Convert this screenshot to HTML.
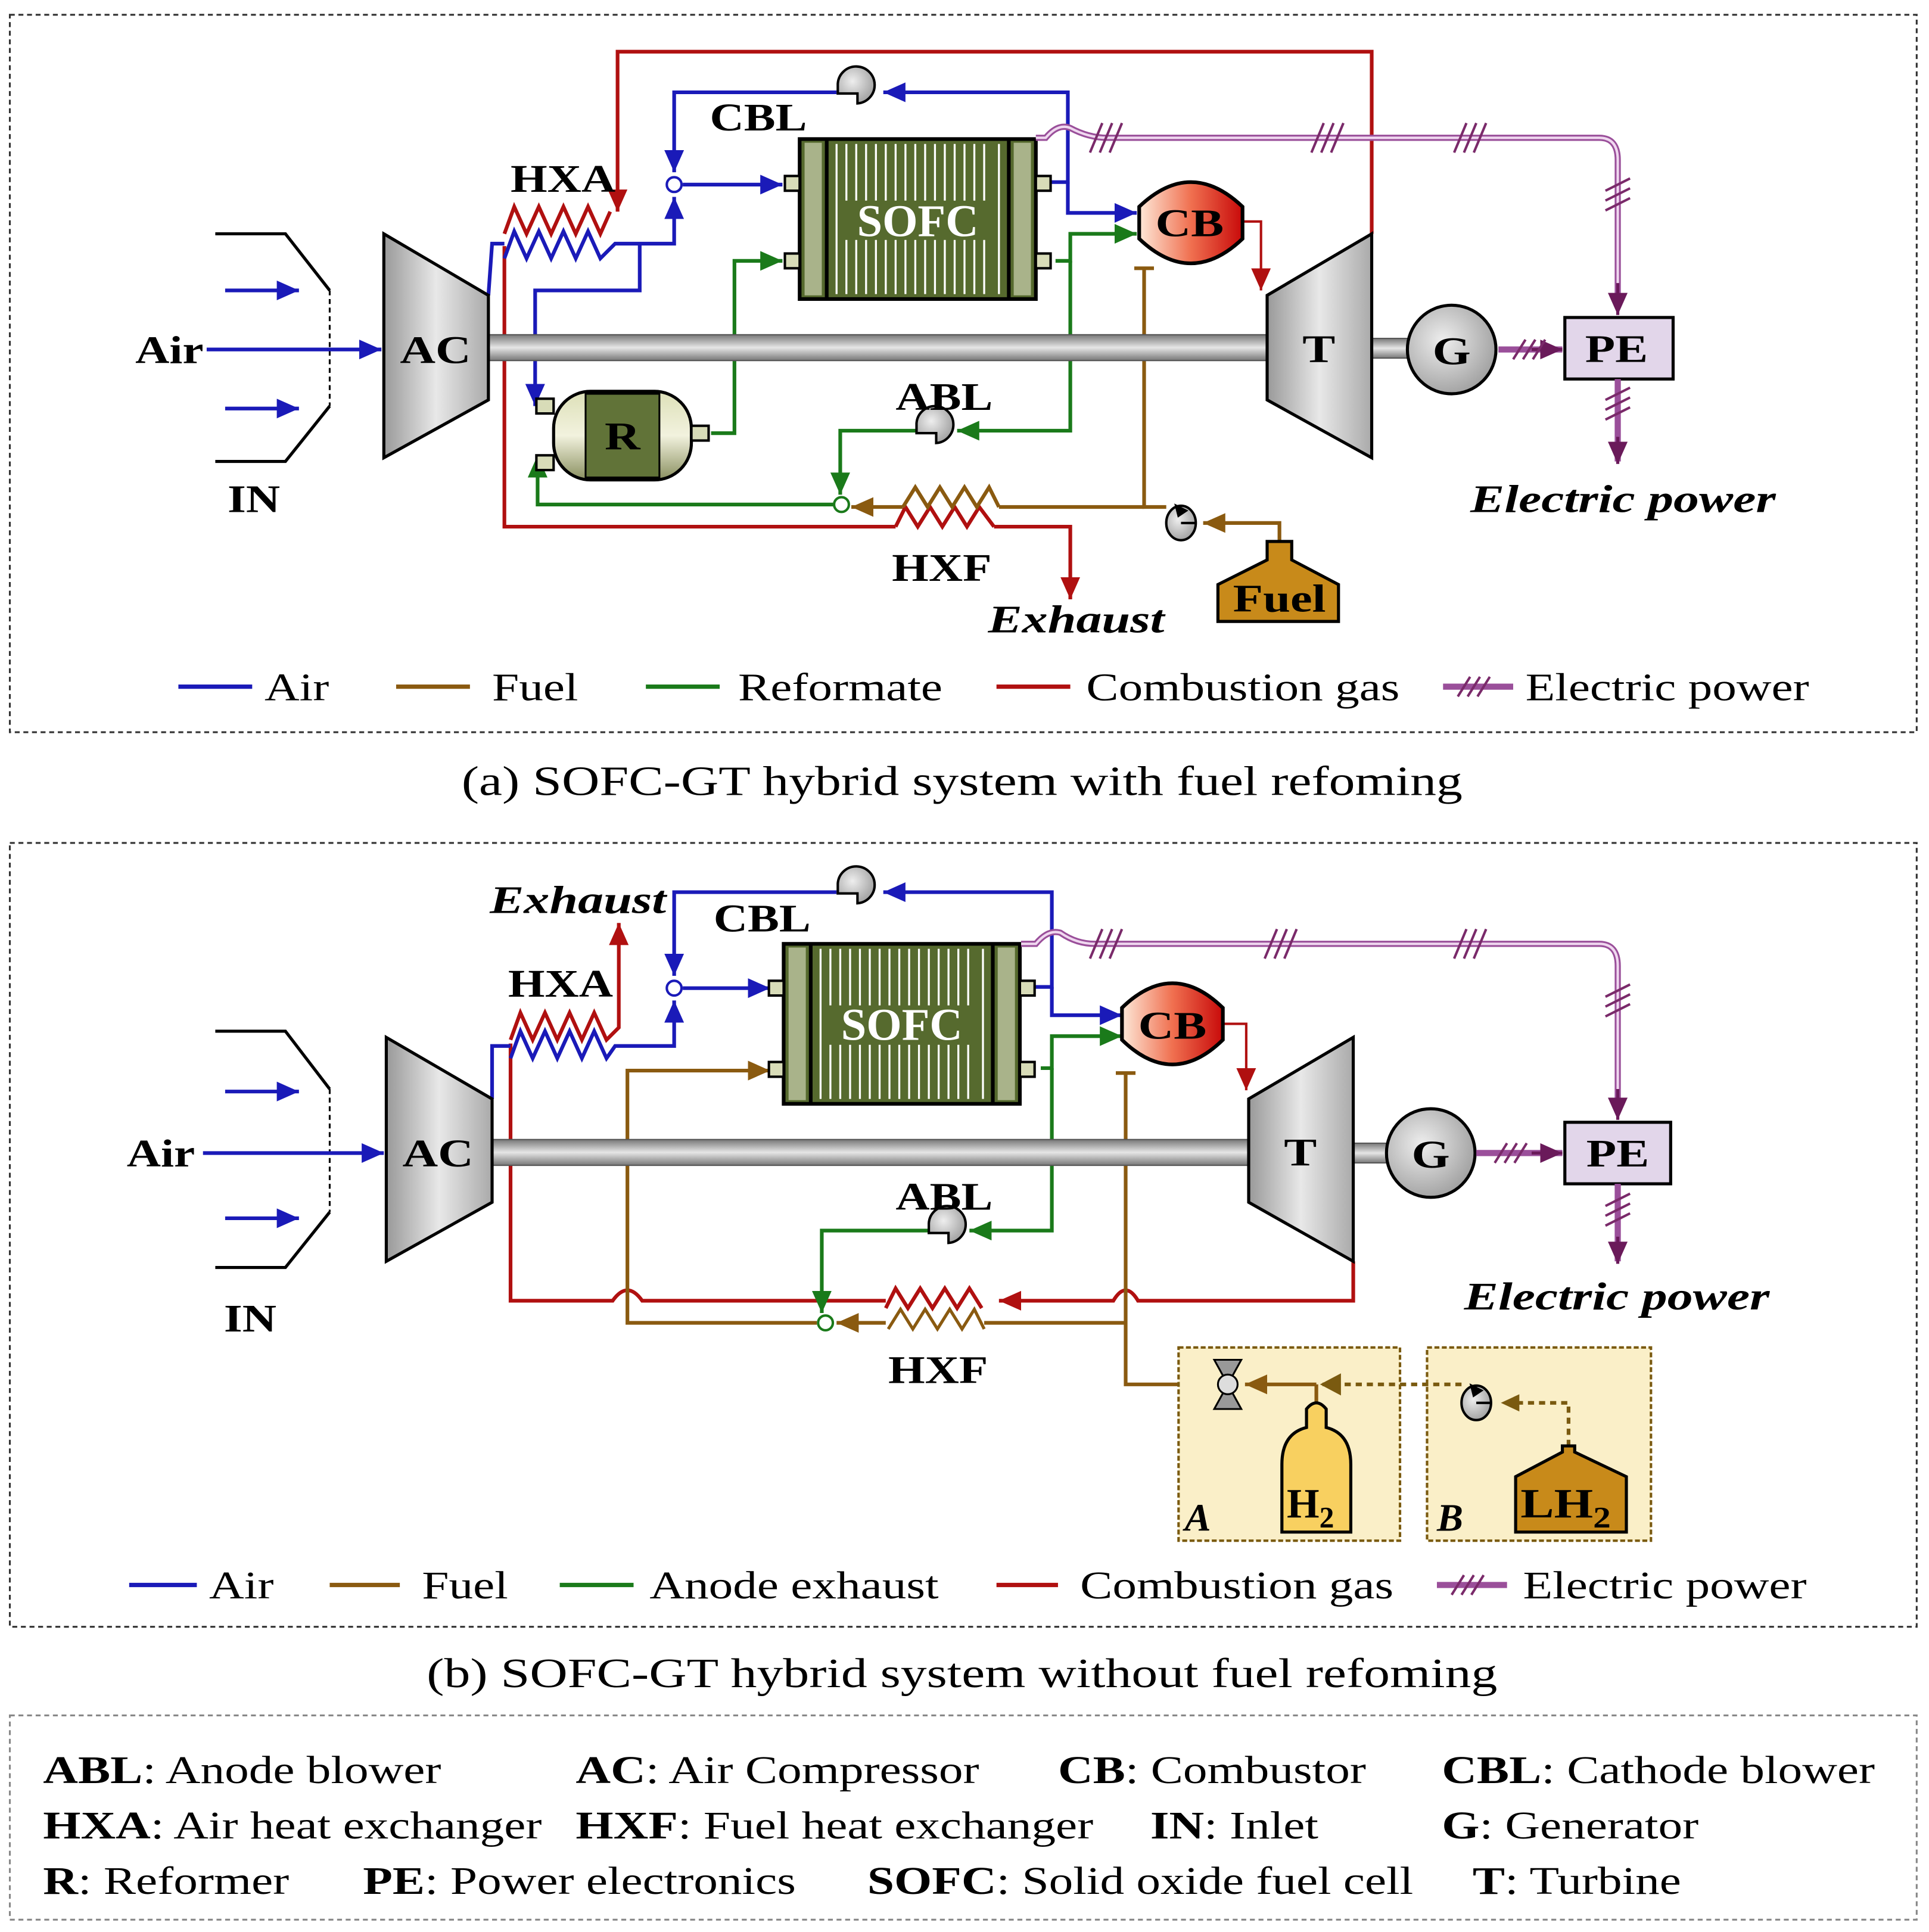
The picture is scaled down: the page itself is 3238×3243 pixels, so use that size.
<!DOCTYPE html>
<html><head><meta charset="utf-8"><style>html,body{margin:0;padding:0;background:#fff}svg{display:block}text{font-family:"Liberation Serif",serif}
.w{transform-box:fill-box;transform-origin:0 0;transform:scaleX(1.23)}
.wc{transform-box:fill-box;transform-origin:50% 0;transform:scaleX(1.25)}
.wb{transform-box:fill-box;transform-origin:0 0;transform:scaleX(1.2)}
.wi{transform-box:fill-box;transform-origin:0 0;transform:scaleX(1.3)}
</style></head>
<body>
<svg width="3238" height="3243" viewBox="0 0 1568 1570" preserveAspectRatio="none" xmlns="http://www.w3.org/2000/svg">
<defs>
<marker id="ab" markerUnits="userSpaceOnUse" markerWidth="20" markerHeight="20" refX="18" refY="8" orient="auto"><path d="M0,0 L18,8 L0,16 Z" fill="#1a1ab8"/></marker>
<marker id="ag" markerUnits="userSpaceOnUse" markerWidth="20" markerHeight="20" refX="18" refY="8" orient="auto"><path d="M0,0 L18,8 L0,16 Z" fill="#1a7a1a"/></marker>
<marker id="ar" markerUnits="userSpaceOnUse" markerWidth="20" markerHeight="20" refX="18" refY="8" orient="auto"><path d="M0,0 L18,8 L0,16 Z" fill="#b01010"/></marker>
<marker id="ao" markerUnits="userSpaceOnUse" markerWidth="20" markerHeight="20" refX="18" refY="8" orient="auto"><path d="M0,0 L18,8 L0,16 Z" fill="#8a5a10"/></marker>
<marker id="ap" markerUnits="userSpaceOnUse" markerWidth="20" markerHeight="20" refX="18" refY="8" orient="auto"><path d="M0,0 L18,8 L0,16 Z" fill="#6a1a5a"/></marker>
<linearGradient id="gshaft" x1="0" y1="0" x2="0" y2="1"><stop offset="0" stop-color="#777"/><stop offset=".5" stop-color="#e6e6e6"/><stop offset="1" stop-color="#777"/></linearGradient>
<linearGradient id="gcomp" x1="0" y1="0" x2="1" y2="0"><stop offset="0" stop-color="#999"/><stop offset=".5" stop-color="#e8e8e8"/><stop offset="1" stop-color="#aaa"/></linearGradient>
<linearGradient id="gcb" x1="0" y1="0" x2="1" y2="0"><stop offset="0" stop-color="#fde8d8"/><stop offset=".5" stop-color="#f07050"/><stop offset="1" stop-color="#c80a0a"/></linearGradient>
<radialGradient id="gg" cx=".4" cy=".4" r=".7"><stop offset="0" stop-color="#eee"/><stop offset="1" stop-color="#999"/></radialGradient>
<linearGradient id="gr" x1="0" y1="0" x2="0" y2="1"><stop offset="0" stop-color="#dde0b8"/><stop offset=".5" stop-color="#f2f2de"/><stop offset="1" stop-color="#8a9060"/></linearGradient>
<g id="sofc">
<rect x="0" y="0" width="192" height="130" fill="#566a2e" stroke="#000" stroke-width="3"/>
<rect x="4" y="3" width="14" height="124" fill="#a9b38a"/><rect x="174" y="3" width="14" height="124" fill="#a9b38a"/>
<line x1="22" y1="0" x2="22" y2="130" stroke="#000" stroke-width="3"/><line x1="170" y1="0" x2="170" y2="130" stroke="#000" stroke-width="3"/>
<g stroke="#fff" stroke-width="1.6">
<path d="M30,4V126M162,4V126M38,4V50M46,4V50M54,4V50M62,4V50M70,4V50M78,4V50M86,4V50M94,4V50M102,4V50M110,4V50M118,4V50M126,4V50M134,4V50M142,4V50M150,4V50M38,82V126M46,82V126M54,82V126M62,82V126M70,82V126M78,82V126M86,82V126M94,82V126M102,82V126M110,82V126M118,82V126M126,82V126M134,82V126M142,82V126M150,82V126"/></g>
</g>
<g id="blower"><path d="M-16,-4 A15,15 0 1 1 0,12 L0,4 L-16,4 Z" fill="url(#gg)" stroke="#000" stroke-width="2"/></g>
<g id="pump"><ellipse rx="12" ry="14" fill="url(#gg)" stroke="#000" stroke-width="2"/><path d="M12,0 L0,0 M-4,-14 L4,-10 L-2,-6 Z" stroke="#000" stroke-width="2" fill="#000"/></g>
</defs>

<g fill="none" stroke="#333" stroke-width="1.5" stroke-dasharray="4,3">
<rect x="8" y="12" width="1550" height="583"/>
<rect x="8" y="685" width="1550" height="637"/>
<rect x="8" y="1394" width="1550" height="166" stroke="#888"/>
</g>

<!-- ============ PANEL A ============ -->
<g>
<polyline points="175,190 232,190 268,236" fill="none" stroke="#000" stroke-width="2.5"/>
<polyline points="268,330 232,375 175,375" fill="none" stroke="#000" stroke-width="2.5"/>
<line x1="268" y1="236" x2="268" y2="330" stroke="#000" stroke-width="1.5" stroke-dasharray="4,3"/>
<g stroke="#1a1ab8" stroke-width="3"><line x1="183" y1="236" x2="243" y2="236" marker-end="url(#ab)"/><line x1="183" y1="332" x2="243" y2="332" marker-end="url(#ab)"/><line x1="168" y1="284" x2="310" y2="284" marker-end="url(#ab)"/></g>
<text class="wb" x="110" y="295" font-size="32" font-weight="bold">Air</text>
<text class="wb" x="185" y="416" font-size="32" font-weight="bold">IN</text>

<g fill="none" stroke="#b01010" stroke-width="3">
<polyline points="1115,190 1115,42 502,42 502,172" marker-end="url(#ar)"/>
<polyline points="410,200 410,428 728,428"/>
<polyline points="808,428 870,428 870,487" marker-end="url(#ar)"/>
<polyline points="1008,180 1025,180 1025,236" stroke-width="2" marker-end="url(#ar)"/>
<path d="M410,190 L418,168 L428,190 L438,168 L448,190 L458,168 L468,190 L478,168 L488,190 L496,172"/>
<path d="M728,428 L736,412 L746,428 L756,412 L766,428 L776,412 L786,428 L796,412 L808,428"/>
</g>
<g fill="none" stroke="#1a1ab8" stroke-width="3">
<polyline points="397,240 400,198 410,198"/>
<path d="M410,210 L418,188 L428,210 L438,188 L448,210 L458,188 L468,210 L478,188 L488,210 L500,198 L548,198 L548,160" marker-end="url(#ab)"/>
<polyline points="520,198 520,236 435,236 435,330" marker-end="url(#ab)"/>
<polyline points="850,148 868,148 868,75 718,75" marker-end="url(#ab)"/>
<polyline points="680,75 548,75 548,140" marker-end="url(#ab)"/>
<line x1="555" y1="150" x2="636" y2="150" marker-end="url(#ab)"/>
<polyline points="868,148 868,173 924,173" marker-end="url(#ab)"/>
</g>
<circle cx="548" cy="150" r="6" fill="#fff" stroke="#1a1ab8" stroke-width="2"/>
<g fill="none" stroke="#1a7a1a" stroke-width="3">
<polyline points="578,352 597,352 597,212 636,212" marker-end="url(#ag)"/>
<polyline points="858,212 870,212 870,190 924,190" marker-end="url(#ag)"/>
<polyline points="870,212 870,350 778,350" marker-end="url(#ag)"/>
<polyline points="745,350 683,350 683,402" marker-end="url(#ag)"/>
<polyline points="678,410 437,410 437,370" marker-end="url(#ag)"/>
</g>
<g fill="none" stroke="#8a5a10" stroke-width="3">
<polyline points="1040,465 1040,425 978,425" marker-end="url(#ao)"/>
<polyline points="948,412 930,412 930,218"/>
<line x1="922" y1="218" x2="938" y2="218"/>
<polyline points="930,412 812,412"/>
<path d="M812,412 L804,396 L794,412 L784,396 L774,412 L764,396 L754,412 L744,396 L734,412"/>
<line x1="734" y1="412" x2="692" y2="412" marker-end="url(#ao)"/>
</g>
<circle cx="684" cy="410" r="6" fill="#fff" stroke="#1a7a1a" stroke-width="2"/>
<rect x="397" y="272" width="633" height="21" fill="url(#gshaft)" stroke="#555"/>
<rect x="1115" y="275" width="32" height="16" fill="url(#gshaft)" stroke="#555"/>
<polygon points="312,190 397,240 397,325 312,372" fill="url(#gcomp)" stroke="#000" stroke-width="2.5"/>
<text class="wc" x="354" y="295" font-size="32" font-weight="bold" text-anchor="middle">AC</text>
<polygon points="1030,240 1115,190 1115,372 1030,325" fill="url(#gcomp)" stroke="#000" stroke-width="2.5"/>
<text class="wc" x="1072" y="294" font-size="32" font-weight="bold" text-anchor="middle">T</text>
<circle cx="1180" cy="284" r="36" fill="url(#gg)" stroke="#000" stroke-width="2.5"/>
<text class="wc" x="1180" y="296" font-size="32" font-weight="bold" text-anchor="middle">G</text>
<rect x="1272" y="258" width="88" height="50" fill="#e2d6ea" stroke="#000" stroke-width="2.5"/>
<text class="wc" x="1314" y="294" font-size="32" font-weight="bold" text-anchor="middle">PE</text>
<use href="#sofc" x="650" y="113"/>
<g fill="#d8dcb8" stroke="#000" stroke-width="2"><rect x="638" y="143" width="12" height="12"/><rect x="638" y="206" width="12" height="12"/><rect x="842" y="143" width="12" height="12"/><rect x="842" y="206" width="12" height="12"/></g>
<text x="746" y="192" font-size="37" font-weight="bold" fill="#fff" text-anchor="middle">SOFC</text>
<path d="M926,168 Q968,128 1010,168 L1010,194 Q968,234 926,194 Z" fill="url(#gcb)" stroke="#000" stroke-width="3"/>
<text class="wc" x="967" y="192" font-size="32" font-weight="bold" text-anchor="middle">CB</text>
<rect x="450" y="318" width="112" height="72" rx="30" fill="url(#gr)" stroke="#000" stroke-width="2.5"/>
<rect x="476" y="320" width="60" height="68" fill="#617338" stroke="#000" stroke-width="1.5"/>
<rect x="562" y="346" width="14" height="12" fill="#d8dcb8" stroke="#000" stroke-width="2"/>
<rect x="436" y="324" width="14" height="12" fill="#d8dcb8" stroke="#000" stroke-width="2"/>
<rect x="436" y="370" width="14" height="12" fill="#d8dcb8" stroke="#000" stroke-width="2"/>
<text class="wc" x="506" y="365" font-size="32" font-weight="bold" text-anchor="middle">R</text>
<use href="#blower" x="697" y="72"/>
<use href="#blower" x="761" y="348"/>
<use href="#pump" x="960" y="425"/>
<path d="M1030,440 L1050,440 L1050,455 L1088,475 L1088,505 L990,505 L990,475 L1030,455 Z" fill="#c88a1a" stroke="#000" stroke-width="2.5"/>
<text class="wc" x="1040" y="497" font-size="32" font-weight="bold" text-anchor="middle">Fuel</text>
<g fill="none">
<path d="M842,112 L850,112 Q860,100 870,104 Q885,112 900,112 L1300,112 Q1315,112 1315,130 L1315,240" stroke="#9a4f9a" stroke-width="5"/>
<path d="M842,112 L850,112 Q860,100 870,104 Q885,112 900,112 L1300,112 Q1315,112 1315,130 L1315,240" stroke="#f0d8f0" stroke-width="2"/>
<line x1="1315" y1="230" x2="1315" y2="256" stroke="#6a1a5a" stroke-width="2.5" marker-end="url(#ap)"/>
<path d="M1218,284 L1270,284" stroke="#9a4f9a" stroke-width="5"/>
<line x1="1245" y1="284" x2="1270" y2="284" stroke="#6a1a5a" stroke-width="2.5" marker-end="url(#ap)"/>
<path d="M1315,308 L1315,375" stroke="#9a4f9a" stroke-width="5"/>
<line x1="1315" y1="355" x2="1315" y2="377" stroke="#6a1a5a" stroke-width="2.5" marker-end="url(#ap)"/>
<g stroke="#7a2a6a" stroke-width="2"><path d="M886,124 L896,100 M894,124 L904,100 M902,124 L912,100 M1066,124 L1076,100 M1074,124 L1084,100 M1082,124 L1092,100 M1182,124 L1192,100 M1190,124 L1200,100 M1198,124 L1208,100 M1305,155 L1325,145 M1305,163 L1325,153 M1305,171 L1325,161 M1230,292 L1240,276 M1238,292 L1248,276 M1246,292 L1256,276 M1305,325 L1325,315 M1305,333 L1325,323 M1305,341 L1325,331"/></g>
</g>
<g font-size="32" font-weight="bold">
<text class="wb" x="415" y="156">HXA</text><text class="wb" x="577" y="106">CBL</text><text class="wb" x="728" y="333">ABL</text><text class="wb" x="725" y="472">HXF</text>
<text class="wi" x="803" y="514" font-style="italic">Exhaust</text>
<text class="wi" x="1195" y="416" font-style="italic">Electric power</text>
</g>
<g stroke-width="3.5"><line x1="145" y1="558" x2="205" y2="558" stroke="#1a1ab8"/><line x1="322" y1="558" x2="382" y2="558" stroke="#8a5a10"/><line x1="525" y1="558" x2="585" y2="558" stroke="#1a7a1a"/><line x1="810" y1="558" x2="870" y2="558" stroke="#b01010"/>
<line x1="1173" y1="558" x2="1230" y2="558" stroke="#9a4f9a" stroke-width="5"/><path d="M1185,566 L1195,550 M1193,566 L1203,550 M1201,566 L1211,550" stroke="#7a2a6a" stroke-width="2"/></g>
<g font-size="32"><text class="w" x="215" y="569">Air</text><text class="w" x="400" y="569">Fuel</text><text class="w" x="600" y="569">Reformate</text><text class="w" x="883" y="569">Combustion gas</text><text class="w" x="1240" y="569">Electric power</text></g>
</g>
<text class="wc" x="782" y="646" font-size="34" text-anchor="middle">(a) SOFC-GT hybrid system with fuel refoming</text>

<!-- ============ PANEL B ============ -->
<g>
<polyline points="175,838 232,838 268,885" fill="none" stroke="#000" stroke-width="2.5"/>
<polyline points="268,985 232,1030 175,1030" fill="none" stroke="#000" stroke-width="2.5"/>
<line x1="268" y1="885" x2="268" y2="985" stroke="#000" stroke-width="1.5" stroke-dasharray="4,3"/>
<g stroke="#1a1ab8" stroke-width="3"><line x1="183" y1="887" x2="243" y2="887" marker-end="url(#ab)"/><line x1="183" y1="990" x2="243" y2="990" marker-end="url(#ab)"/><line x1="165" y1="937" x2="312" y2="937" marker-end="url(#ab)"/></g>
<text class="wb" x="103" y="948" font-size="32" font-weight="bold">Air</text>
<text class="wb" x="182" y="1082" font-size="32" font-weight="bold">IN</text>

<g fill="none" stroke="#b01010" stroke-width="3">
<path d="M1100,1025 L1100,1057 L925,1057 Q915,1040 905,1057 L812,1057" marker-end="url(#ar)"/>
<path d="M720,1057 L522,1057 Q510,1040 498,1057 L415,1057 L415,848"/>
<path d="M415,845 L423,823 L433,845 L443,823 L453,845 L463,823 L473,845 L483,823 L493,845 L503,835 L503,750" marker-end="url(#ar)"/>
<path d="M720,1063 L728,1047 L738,1063 L748,1047 L758,1063 L768,1047 L778,1063 L788,1047 L798,1063"/>
<polyline points="994,832 1013,832 1013,886" stroke-width="2" marker-end="url(#ar)"/>
</g>
<g fill="none" stroke="#1a1ab8" stroke-width="3">
<polyline points="400,893 400,850 415,850"/>
<path d="M415,860 L423,838 L433,860 L443,838 L453,860 L463,838 L473,860 L483,838 L493,860 L500,850 L548,850 L548,813" marker-end="url(#ab)"/>
<polyline points="838,802 855,802 855,725 718,725" marker-end="url(#ab)"/>
<polyline points="680,725 548,725 548,793" marker-end="url(#ab)"/>
<line x1="555" y1="803" x2="626" y2="803" marker-end="url(#ab)"/>
<polyline points="855,802 855,825 912,825" marker-end="url(#ab)"/>
</g>
<circle cx="548" cy="803" r="6" fill="#fff" stroke="#1a1ab8" stroke-width="2"/>
<g fill="none" stroke="#1a7a1a" stroke-width="3">
<polyline points="846,868 855,868 855,842 912,842" marker-end="url(#ag)"/>
<polyline points="855,868 855,1000 788,1000" marker-end="url(#ag)"/>
<polyline points="755,1000 668,1000 668,1067" marker-end="url(#ag)"/>
</g>
<g fill="none" stroke="#8a5a10" stroke-width="3">
<polyline points="988,1125 915,1125 915,872"/>
<line x1="907" y1="872" x2="923" y2="872"/>
<polyline points="915,1075 800,1075"/>
<path d="M720,1075 L680,1075" marker-end="url(#ao)"/>
<polyline points="664,1075 510,1075 510,870 626,870" marker-end="url(#ao)"/>
<path d="M800,1080 L792,1064 L782,1080 L772,1064 L762,1080 L752,1064 L742,1080 L732,1064 L722,1080" stroke-width="2.5"/>
</g>
<circle cx="671" cy="1075" r="6" fill="#fff" stroke="#1a7a1a" stroke-width="2"/>
<rect x="400" y="926" width="615" height="21" fill="url(#gshaft)" stroke="#555"/>
<rect x="1100" y="929" width="30" height="16" fill="url(#gshaft)" stroke="#555"/>
<polygon points="314,843 400,893 400,977 314,1025" fill="url(#gcomp)" stroke="#000" stroke-width="2.5"/>
<text class="wc" x="356" y="948" font-size="32" font-weight="bold" text-anchor="middle">AC</text>
<polygon points="1015,893 1100,843 1100,1025 1015,977" fill="url(#gcomp)" stroke="#000" stroke-width="2.5"/>
<text class="wc" x="1057" y="947" font-size="32" font-weight="bold" text-anchor="middle">T</text>
<circle cx="1163" cy="937" r="36" fill="url(#gg)" stroke="#000" stroke-width="2.5"/>
<text class="wc" x="1163" y="949" font-size="32" font-weight="bold" text-anchor="middle">G</text>
<rect x="1272" y="912" width="86" height="50" fill="#e2d6ea" stroke="#000" stroke-width="2.5"/>
<text class="wc" x="1315" y="948" font-size="32" font-weight="bold" text-anchor="middle">PE</text>
<use href="#sofc" x="637" y="767"/>
<g fill="#d8dcb8" stroke="#000" stroke-width="2"><rect x="625" y="797" width="12" height="12"/><rect x="625" y="863" width="12" height="12"/><rect x="829" y="797" width="12" height="12"/><rect x="829" y="863" width="12" height="12"/></g>
<text x="733" y="845" font-size="37" font-weight="bold" fill="#fff" text-anchor="middle">SOFC</text>
<path d="M912,819 Q953,779 994,819 L994,845 Q953,885 912,845 Z" fill="url(#gcb)" stroke="#000" stroke-width="3"/>
<text class="wc" x="953" y="844" font-size="32" font-weight="bold" text-anchor="middle">CB</text>
<use href="#blower" x="697" y="722"/>
<use href="#blower" x="771" y="998"/>
<g fill="#faefc8" stroke="#7a5a10" stroke-width="2" stroke-dasharray="4,2"><rect x="958" y="1095" width="180" height="157"/><rect x="1160" y="1095" width="182" height="157"/></g>
<path d="M1075,1125 L1188,1125" stroke="#7a5a10" stroke-width="3" stroke-dasharray="5,4" fill="none"/>
<path d="M1275,1175 L1275,1140 L1225,1140" stroke="#7a5a10" stroke-width="3" stroke-dasharray="5,4" fill="none"/>
<polygon points="1235,1133 1220,1140 1235,1147" fill="#7a5a10"/>
<polygon points="1090,1116 1073,1125 1090,1134" fill="#7a5a10"/>
<line x1="1070" y1="1125" x2="1070" y2="1140" stroke="#8a5a10" stroke-width="3"/>
<line x1="1070" y1="1125" x2="1012" y2="1125" stroke="#8a5a10" stroke-width="3" marker-end="url(#ao)"/>
<use href="#pump" x="1200" y="1140"/>
<path d="M987,1105 L1009,1105 L998,1125 Z M987,1145 L1009,1145 L998,1125 Z" fill="#999" stroke="#000" stroke-width="1.5"/>
<circle cx="998" cy="1125" r="8" fill="#ddd" stroke="#000" stroke-width="1.5"/>
<path d="M1042,1245 L1042,1190 Q1042,1165 1062,1160 L1062,1145 Q1070,1135 1078,1145 L1078,1160 Q1098,1165 1098,1190 L1098,1245 Z" fill="#f8d060" stroke="#000" stroke-width="2.5"/>
<path d="M1270,1175 L1280,1175 L1280,1180 L1322,1200 L1322,1245 L1232,1245 L1232,1200 L1270,1180 Z" fill="#c88a1a" stroke="#000" stroke-width="2.5"/>
<text x="1046" y="1233" font-size="34" font-weight="bold">H<tspan font-size="24" dy="8">2</tspan></text>
<text class="wb" x="1236" y="1233" font-size="34" font-weight="bold">LH<tspan font-size="24" dy="8">2</tspan></text>
<text x="963" y="1244" font-size="32" font-style="italic" font-weight="bold">A</text>
<text x="1168" y="1244" font-size="32" font-style="italic" font-weight="bold">B</text>
<g fill="none">
<path d="M830,767 L842,767 Q852,755 862,758 Q875,767 890,767 L1300,767 Q1315,767 1315,785 L1315,893" stroke="#9a4f9a" stroke-width="5"/>
<path d="M830,767 L842,767 Q852,755 862,758 Q875,767 890,767 L1300,767 Q1315,767 1315,785 L1315,893" stroke="#f0d8f0" stroke-width="2"/>
<line x1="1315" y1="885" x2="1315" y2="910" stroke="#6a1a5a" stroke-width="2.5" marker-end="url(#ap)"/>
<path d="M1200,937 L1270,937" stroke="#9a4f9a" stroke-width="5"/>
<line x1="1245" y1="937" x2="1270" y2="937" stroke="#6a1a5a" stroke-width="2.5" marker-end="url(#ap)"/>
<path d="M1315,962 L1315,1025" stroke="#9a4f9a" stroke-width="5"/>
<line x1="1315" y1="1005" x2="1315" y2="1027" stroke="#6a1a5a" stroke-width="2.5" marker-end="url(#ap)"/>
<g stroke="#7a2a6a" stroke-width="2"><path d="M886,779 L896,755 M894,779 L904,755 M902,779 L912,755 M1028,779 L1038,755 M1036,779 L1046,755 M1044,779 L1054,755 M1182,779 L1192,755 M1190,779 L1200,755 M1198,779 L1208,755 M1305,810 L1325,800 M1305,818 L1325,808 M1305,826 L1325,816 M1215,945 L1225,929 M1223,945 L1233,929 M1231,945 L1241,929 M1305,980 L1325,970 M1305,988 L1325,978 M1305,996 L1325,986"/></g>
</g>
<g font-size="32" font-weight="bold">
<text class="wb" x="413" y="810">HXA</text><text class="wb" x="580" y="757">CBL</text><text class="wb" x="728" y="983">ABL</text><text class="wb" x="722" y="1124">HXF</text>
<text class="wi" x="398" y="742" font-style="italic">Exhaust</text>
<text class="wi" x="1190" y="1064" font-style="italic">Electric power</text>
</g>
<g stroke-width="3.5"><line x1="105" y1="1288" x2="160" y2="1288" stroke="#1a1ab8"/><line x1="268" y1="1288" x2="325" y2="1288" stroke="#8a5a10"/><line x1="455" y1="1288" x2="515" y2="1288" stroke="#1a7a1a"/><line x1="810" y1="1288" x2="860" y2="1288" stroke="#b01010"/>
<line x1="1168" y1="1288" x2="1225" y2="1288" stroke="#9a4f9a" stroke-width="5"/><path d="M1180,1296 L1190,1280 M1188,1296 L1198,1280 M1196,1296 L1206,1280" stroke="#7a2a6a" stroke-width="2"/></g>
<g font-size="32"><text class="w" x="170" y="1299">Air</text><text class="w" x="343" y="1299">Fuel</text><text class="w" x="528" y="1299">Anode exhaust</text><text class="w" x="878" y="1299">Combustion gas</text><text class="w" x="1238" y="1299">Electric power</text></g>
</g>
<text class="wc" x="782" y="1371" font-size="34" text-anchor="middle">(b) SOFC-GT hybrid system without fuel refoming</text>

<g font-size="32">
<text class="w" x="35" y="1449"><tspan font-weight="bold">ABL</tspan>: Anode blower</text>
<text class="w" x="468" y="1449"><tspan font-weight="bold">AC</tspan>: Air Compressor</text>
<text class="w" x="860" y="1449"><tspan font-weight="bold">CB</tspan>: Combustor</text>
<text class="w" x="1172" y="1449"><tspan font-weight="bold">CBL</tspan>: Cathode blower</text>
<text class="w" x="35" y="1494"><tspan font-weight="bold">HXA</tspan>: Air heat exchanger</text>
<text class="w" x="468" y="1494"><tspan font-weight="bold">HXF</tspan>: Fuel heat exchanger</text>
<text class="w" x="935" y="1494"><tspan font-weight="bold">IN</tspan>: Inlet</text>
<text class="w" x="1172" y="1494"><tspan font-weight="bold">G</tspan>: Generator</text>
<text class="w" x="35" y="1539"><tspan font-weight="bold">R</tspan>: Reformer</text>
<text class="w" x="295" y="1539"><tspan font-weight="bold">PE</tspan>: Power electronics</text>
<text class="w" x="705" y="1539"><tspan font-weight="bold">SOFC</tspan>: Solid oxide fuel cell</text>
<text class="w" x="1197" y="1539"><tspan font-weight="bold">T</tspan>: Turbine</text>
</g>
</svg>
</body></html>
